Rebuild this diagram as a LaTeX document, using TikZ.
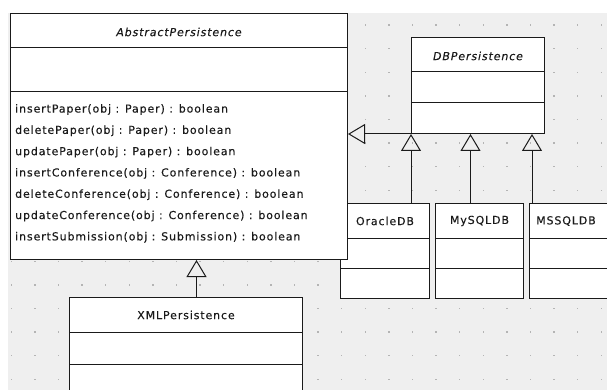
\documentclass[tikz,border=0pt]{standalone}
\usepackage{fontspec}
\usetikzlibrary{arrows.meta}
\newfontfamily\umlfont[LetterSpace=8, FakeBold=0.2]{DejaVu Sans}
\definecolor{canvas}{HTML}{EFEFEF}
\definecolor{gridpt}{HTML}{B4B4B4}
\definecolor{ink}{HTML}{1A1A1A}
\tikzset{
  classbox/.style={draw=ink, line width=1pt, fill=white, inner sep=0pt, anchor=north west},
  sep/.style={draw=ink, line width=1pt},
  cname/.style={font=\umlfont\fontsize{11}{12}\selectfont, text=ink, inner sep=0pt},
  ops/.style={font=\umlfont\fontsize{11}{21.3}\selectfont, text=ink, inner sep=0pt, align=left, anchor=north west},
  gen/.style={draw=ink, line width=1pt, -{Triangle[open, length=17pt, width=20pt, line width=1pt]}},
}
\begin{document}
\begin{tikzpicture}[x=1pt, y=-1pt]
\useasboundingbox (0,0) rectangle (607,390);
% drawing canvas with dotted grid
\fill[white] (0,0) rectangle (607,390);
\fill[canvas] (8,13) rectangle (607,390);
\foreach \i in {0,...,25} {
  \foreach \j in {0,...,15} {
    \fill[gridpt] ({11.3+23.6*\i-0.7},{25.2+23.6*\j-0.7}) rectangle ++(1.4,1.4);
  }
}

% subclass boxes of DBPersistence
\node[classbox, minimum width=89pt, minimum height=95pt] (ora) at (340,203) {};
\draw[sep] ([yshift=-35pt]ora.north west) -- ([yshift=-35pt]ora.north east);
\draw[sep] ([yshift=-65pt]ora.north west) -- ([yshift=-65pt]ora.north east);
\node[cname] (oratitle) at ([yshift=-18pt]ora.north) {OracleDB};

\node[classbox, minimum width=88pt, minimum height=95pt] (my) at (435,203) {};
\draw[sep] ([yshift=-35pt]my.north west) -- ([yshift=-35pt]my.north east);
\draw[sep] ([yshift=-65pt]my.north west) -- ([yshift=-65pt]my.north east);
\node[cname] (mytitle) at ([yshift=-18pt]my.north) {MySQLDB};

\node[classbox, minimum width=89pt, minimum height=95pt] (ms) at (529,203) {};
\draw[sep] ([yshift=-35pt]ms.north west) -- ([yshift=-35pt]ms.north east);
\draw[sep] ([yshift=-65pt]ms.north west) -- ([yshift=-65pt]ms.north east);
\node[cname, anchor=west] (mstitle) at ([xshift=7pt, yshift=-18pt]ms.north west) {MSSQLDB};

% abstract base class
\node[classbox, minimum width=337pt, minimum height=246pt] (abs) at (10,13) {};
\draw[sep] ([yshift=-35pt]abs.north west) -- ([yshift=-35pt]abs.north east);
\draw[sep] ([yshift=-79pt]abs.north west) -- ([yshift=-79pt]abs.north east);
\node[cname, font=\umlfont\itshape\fontsize{11}{12}\selectfont] (abstitle) at ([yshift=-19pt]abs.north) {AbstractPersistence};
\node[ops] (absops) at (15,104) {%
insertPaper(obj : Paper) : boolean\\
deletePaper(obj : Paper) : boolean\\
updatePaper(obj : Paper) : boolean\\
insertConference(obj : Conference) : boolean\\
deleteConference(obj : Conference) : boolean\\
updateConference(obj : Conference) : boolean\\
insertSubmission(obj : Submission) : boolean};

% database persistence class
\node[classbox, minimum width=133pt, minimum height=96pt] (db) at (411,37) {};
\draw[sep] ([yshift=-35pt]db.north west) -- ([yshift=-35pt]db.north east);
\draw[sep] ([yshift=-66pt]db.north west) -- ([yshift=-66pt]db.north east);
\node[cname, font=\umlfont\itshape\fontsize{11}{12}\selectfont] (dbtitle) at ([yshift=-19pt]db.north) {DBPersistence};

% XML persistence class
\node[classbox, minimum width=233pt, minimum height=110pt] (xml) at (69,297) {};
\draw[sep] ([yshift=-35pt]xml.north west) -- ([yshift=-35pt]xml.north east);
\draw[sep] ([yshift=-67pt]xml.north west) -- ([yshift=-67pt]xml.north east);
\node[cname] (xmltitle) at ([yshift=-18pt]xml.north) {XMLPersistence};

% generalizations
\draw[gen] (db.south west) -- (abs.east |- db.south west);
\draw[gen] (db.south west |- ora.north) -- (db.south west);
\draw[gen] ([xshift=-9pt]my.north) -- ([xshift=-9pt]my.north |- db.south);
\draw[gen] ([xshift=3pt]ms.north west) -- ([xshift=3pt]ms.north west |- db.south);
\draw[gen] ([xshift=10.5pt]xml.north) -- ([xshift=10.5pt]xml.north |- abs.south);
\end{tikzpicture}
\end{document}
